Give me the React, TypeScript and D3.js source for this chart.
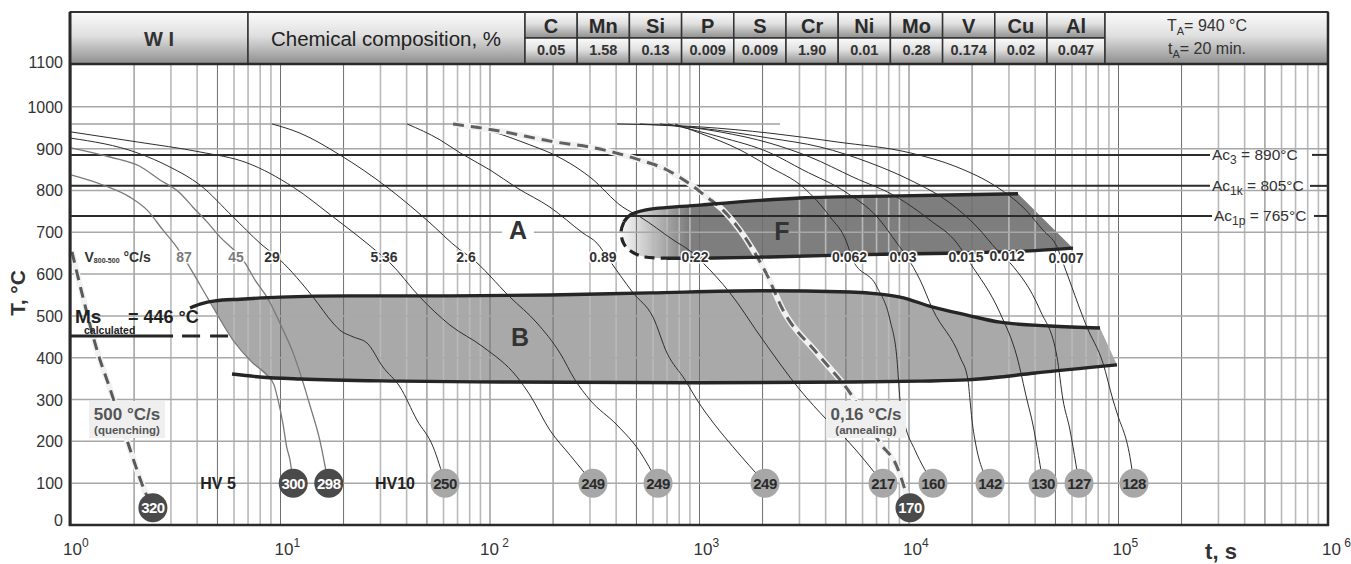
import React from 'react';
import * as d3 from 'd3';

const FONT = "'Liberation Sans', Arial, Helvetica, sans-serif";

// ---------- data ----------
const yTicks = [0, 100, 200, 300, 400, 500, 600, 700, 800, 900, 1000, 1100];
const yGrid = [100, 200, 300, 400, 500, 600, 700, 800, 900, 1000];
const xDecades = [0, 1, 2, 3, 4, 5, 6];
const austenitizingLine = [[1, 959], [2420, 959]];

const elements = ['C', 'Mn', 'Si', 'P', 'S', 'Cr', 'Ni', 'Mo', 'V', 'Cu', 'Al'];
const composition = ['0.05', '1.58', '0.13', '0.009', '0.009', '1.90', '0.01', '0.28', '0.174', '0.02', '0.047'];

const acLines = [
  { name: '3', value: '890°C', T: 885 },
  { name: '1k', value: '805°C', T: 811 },
  { name: '1p', value: '765°C', T: 739 },
];
const msTemp = 452;

const curve87 = [[1.0,837],[1.42,813],[1.91,784],[2.31,753],[2.75,705],[3.14,670],[3.58,627],[4.13,574],[4.76,521],[5.93,442],[7.39,387],[8.62,359],[9.31,335],[9.73,299],[10.3,239],[10.7,187],[11.1,155],[11.5,100]];
const curve45 = [[1.0,902],[1.535,880],[2.13,858],[2.66,825],[3.31,794],[3.82,760],[4.46,725],[5.14,689],[6.2,650],[6.77,627],[7.55,586],[8.62,545],[10.3,466],[11.5,411],[12.7,347],[13.8,287],[15.4,203],[16.9,100]];
const curve29 = [[1.0,925],[2.07,890],[2.97,856],[4.13,813],[5.93,737],[7.98,674],[9.95,634],[14.3,545],[17.8,483],[19.2,466],[22.2,450],[25.9,435],[30.8,378],[37.2,330],[44.8,251],[53.5,187],[61.0,100]];
const curve536 = [[1.0,940],[2.07,916],[4.13,892],[6.92,866],[11.5,808],[17.8,737],[27.6,662],[33.3,627],[46.3,545],[64.4,478],[92.6,426],[134.6,354],[155,311],[193,227],[241,167],[310,100]];
const curve26 = [[9.11,959],[12.4,937],[19.2,885],[32.2,808],[50.0,729],[71.9,658],[80.3,641],[124.6,545],[167.6,483],[215.9,411],[254.5,347],[300,299],[404,239],[520,175],[634,100]];
const curve089 = [[40.2,959],[57.7,921],[71.9,890],[100,849],[134.6,806],[193.4,760],[277.9,698],[324,674],[362,641],[482,555],[600,497],[700,411],[853,347],[973,299],[1186,239],[1445,187],[2055,100]];
const curve022 = [[66.6,959],[100,942],[155,909],[193.4,890],[300,832],[431,760],[520,737],[747,682],[931,650],[1039,627],[1398,555],[2010,442],[3018,323],[4061,251],[5060,203],[7515,100]];
const curve0062 = [[764,959],[1006,937],[1561,897],[2170,856],[3119,808],[4196,737],[5060,674],[5345,638],[7036,569],[8117,490],[8766,395],[9058,299],[9570,239],[10680,179],[13020,100]];
const curve003 = [[707,959],[1253,928],[2170,890],[3119,849],[5060,794],[7036,737],[8766,674],[9783,641],[11290,586],[13020,514],[17510,402],[19120,347],[19550,299],[19980,251],[20650,203],[24360,100]];
const curve0015 = [[648,959],[1253,940],[2170,913],[3369,880],[5404,832],[8766,784],[12600,729],[16950,674],[19550,627],[27190,507],[32770,402],[36580,299],[39080,239],[40830,187],[43610,100]];
const curve0012 = [[520,959],[1006,949],[2170,925],[3761,904],[6513,866],[10110,825],[15690,770],[21110,713],[26300,658],[30350,627],[42200,514],[50860,402],[54340,299],[58680,227],[60640,187],[64790,100]];
const curve0007 = [[404,959],[1006,952],[2170,937],[4533,916],[10110,890],[16950,856],[26300,808],[35010,760],[43610,705],[50860,665],[54340,627],[70720,473],[84330,387],[94130,299],[98350,268],[113400,163],[118600,100]];

const coolingCurves = [
  { pts: curve87, gray: true }, { pts: curve45, gray: true }, { pts: curve29 }, { pts: curve536 },
  { pts: curve26 }, { pts: curve089 }, { pts: curve022 }, { pts: curve0062 }, { pts: curve003 },
  { pts: curve0015 }, { pts: curve0012 }, { pts: curve0007 },
];

const quenchCurve = [[1.011,653],[1.14,545],[1.375,395],[1.485,347],[1.85,203],[2.26,79],[2.46,41]];
const annealCurve = [[66.6,959],[111.6,942],[193.4,918],[335,899],[503,875],[700,849],[872,820],[1086,784],[1295,753],[1561,705],[1800,658],[2100,598],[2503,514],[3638,411],[5229,316],[7272,196],[8766,139],[9570,84],[10110,41]];

// rate labels: [text, t, T, gray]
const rateLabels: [string, number, number, boolean][] = [
  ['87', 3.46, 641, true], ['45', 6.13, 641, true], ['29', 9.11, 641, false], ['5.36', 31.2, 641, false],
  ['2.6', 76.8, 641, false], ['0.89', 346, 641, false], ['0.22', 952, 641, false], ['0.062', 5200, 641, false],
  ['0.03', 9363, 641, false], ['0.015', 18710, 641, false], ['0.012', 29370, 644, false], ['0.007', 56160, 638, false],
];

// ferrite field
const fUpper = [[33140,792],[9058,787],[3018,782],[1006,765],[549,753],[466,741],[436,725]];
const fArc = [[436,725],[422,701],[436,672],[476,653],[549,641],[700,638]];
const fBottom = [[700,638],[1006,638],[2170,641],[5229,646],[15690,650],[35790,655],[60640,662]];

// bainite field
const bUpper = [[3.70,519],[4.13,528],[4.87,536],[6.41,540],[9.95,545],[21.5,548],[64.4,548],[193,550],[580,555],[1945,560],[5229,557],[7272,552],[9058,545],[13020,521],[18920,502],[27190,485],[47100,476],[81600,471]];
const bLower = [[5.87,361],[7.98,354],[12.4,349],[37.2,344],[111.6,342],[1006,340],[5229,342],[11290,344],[18920,347],[27190,354],[39080,363],[98350,383]];
const bFill = [[4.66,533],[4.87,536],[6.41,540],[9.95,545],[21.5,548],[64.4,548],[193,550],[580,555],[1945,560],[5229,557],[7272,552],[9058,545],[13020,521],[18920,502],[27190,485],[47100,476],[81600,471],[98350,383],[39080,363],[27190,354],[18920,347],[11290,344],[5229,342],[1006,340],[111.6,342],[37.2,344],[12.4,349],[8.62,355],[7.39,387],[5.93,442],[5.14,490]];

// hardness: [HV, t, T, dark]
const hardness: [number, number, number, boolean][] = [
  [320, 2.46, 41, true], [300, 11.5, 100, true], [298, 17.0, 100, true], [250, 61.0, 100, false],
  [249, 310, 100, false], [249, 634, 100, false], [249, 2055, 100, false], [217, 7515, 100, false],
  [170, 10110, 41, true], [160, 13020, 100, false], [142, 24360, 100, false], [130, 43610, 100, false],
  [127, 64790, 100, false], [128, 118600, 100, false],
];

// ---------- scales ----------
const x = d3.scaleLog().domain([1, 1e6]).range([71, 1328]);
const y = d3.scaleLinear().domain([0, 1100]).range([525, 65]);
const X0 = 71, X1 = 1328, Y0 = 525, YH = 64, YT = 12, YM = 38;

const lineMono = d3.line<number[]>().x(d => x(d[0])).y(d => y(d[1])).curve(d3.curveMonotoneX);
const lineCR = d3.line<number[]>().x(d => x(d[0])).y(d => y(d[1])).curve(d3.curveCatmullRom.alpha(0.5));
const lineLin = d3.line<number[]>().x(d => x(d[0])).y(d => y(d[1]));

const vGrid: { t: number; dark: boolean }[] = [];
for (let k = 0; k < 6; k++) for (let m = 1; m <= 9; m++) vGrid.push({ t: m * Math.pow(10, k), dark: m === 1 || m === 2 || m === 5 });

export default function App() {
  const colStart = 525, colW = 52.2, colEnd = 1105;
  const cols = elements.map((e, i) => {
    const x0 = colStart + i * colW;
    const x1 = i === elements.length - 1 ? colEnd : colStart + (i + 1) * colW;
    return { e, v: composition[i], x0, x1 };
  });
  const thick = '#252525';

  return (
    <svg width={1351} height={564} style={{ position: 'absolute', left: 0, top: 0, display: 'block', background: '#fff' }} fontFamily={FONT}>
      <defs>
        <linearGradient id="hdr" x1="0" y1="0" x2="0" y2="1">
          <stop offset="0" stopColor="#fbfbfb" />
          <stop offset="0.45" stopColor="#e0e0e0" />
          <stop offset="1" stopColor="#8e8e8e" />
        </linearGradient>
        <linearGradient id="fgrad" gradientUnits="userSpaceOnUse" x1="622" y1="0" x2="688" y2="0">
          <stop offset="0" stopColor="#f6f6f6" />
          <stop offset="1" stopColor="#7e7e7e" />
        </linearGradient>
      </defs>
      <rect x={0} y={0} width={1351} height={564} fill="#fff" />

      {/* fields */}
      <path d={lineLin(bFill) + 'Z'} fill="#a9a9a9" />
      <path d={lineCR([...fUpper, ...fArc.slice(1), ...fBottom.slice(1)]) + 'Z'} fill="url(#fgrad)" />

      {/* grid */}
      {vGrid.map((g, i) => (
        <line key={'v' + i} x1={x(g.t)} x2={x(g.t)} y1={YH} y2={Y0}
          stroke={g.dark ? '#6e6e6e' : '#b9b9b9'} strokeWidth={g.dark ? 1 : 1.6} />
      ))}
      {yGrid.map(v => (
        <line key={'h' + v} x1={X0} x2={X1} y1={y(v)} y2={y(v)} stroke="#a8a8a8" strokeWidth={1.5} />
      ))}
      <path d={lineLin(austenitizingLine)!} stroke="#a0a0a0" strokeWidth={1.5} fill="none" />

      {/* Ac lines */}
      {acLines.map((a, i) => {
        const lx = [1212, 1212, 1214][i];
        const rx = [1312, 1310, 1314][i];
        return (
          <g key={a.name}>
            <line x1={X0} x2={lx - 2} y1={y(a.T)} y2={y(a.T)} stroke="#2b2b2b" strokeWidth={2} />
            <line x1={rx} x2={X1} y1={y(a.T)} y2={y(a.T)} stroke="#2b2b2b" strokeWidth={2} />
            <text x={lx} y={y(a.T) + 5} fontSize={15.5} fill="#333">
              Ac<tspan dy={4} fontSize={12}>{a.name}</tspan><tspan dy={-4}>{' = ' + a.value}</tspan>
            </text>
          </g>
        );
      })}

      {/* cooling curves */}
      {coolingCurves.map((c, i) => (
        <path key={'c' + i} d={lineMono(c.pts)!} fill="none" stroke={c.gray ? '#7a7a7a' : '#2e2e2e'} strokeWidth={c.gray ? 1.3 : 1} />
      ))}

      {/* dashed quench / anneal */}
      <path d={lineMono(quenchCurve)!} fill="none" stroke="#f1f1f1" strokeWidth={6} />
      <path d={lineMono(quenchCurve)!} fill="none" stroke="#595959" strokeWidth={3} strokeDasharray="11 7" />
      <path d={lineMono(annealCurve)!} fill="none" stroke="#f1f1f1" strokeWidth={6} />
      <path d={lineMono(annealCurve)!} fill="none" stroke="#606060" strokeWidth={3} strokeDasharray="11 7" />

      {/* field boundaries */}
      <path d={lineMono(bUpper)!} fill="none" stroke={thick} strokeWidth={3.4} />
      <path d={lineMono(bLower)!} fill="none" stroke={thick} strokeWidth={3.4} />
      <path d={lineCR(fUpper)!} fill="none" stroke={thick} strokeWidth={3.4} />
      <path d={lineCR(fArc)!} fill="none" stroke={thick} strokeWidth={3.2} strokeDasharray="10 6" />
      <path d={lineCR(fBottom)!} fill="none" stroke={thick} strokeWidth={3.4} />

      {/* Ms line */}
      <line x1={X0} x2={x(3.07)} y1={y(msTemp)} y2={y(msTemp)} stroke={thick} strokeWidth={3} />
      <line x1={x(3.39)} x2={x(5.62)} y1={y(msTemp)} y2={y(msTemp)} stroke={thick} strokeWidth={3} strokeDasharray="18 10" />

      {/* rate labels */}
      <text x={x(1.16)} y={y(641) + 5} fontSize={14} fontWeight="bold" fill="#333">
        V<tspan fontSize={7} dy={1}>800-500</tspan><tspan dy={-1}>{'  °C/s'}</tspan>
      </text>
      {rateLabels.map(([s, t, T, g], i) => (
        <text key={'r' + i} x={x(t)} y={y(T) + 5} textAnchor="middle" fontSize={14} fontWeight="bold"
          fill={g ? '#7a7a7a' : '#333'} stroke="#fff" strokeWidth={3} paintOrder="stroke" strokeLinejoin="round">{s}</text>
      ))}

      {/* region letters */}
      <rect x={x(136) - 16} y={y(705) - 13} width={32} height={26} fill="#fff" />
      <text x={x(136)} y={y(705) + 9} textAnchor="middle" fontSize={25} fontWeight="bold" fill="#333">A</text>
      <text x={x(139)} y={y(450) + 9} textAnchor="middle" fontSize={25} fontWeight="bold" fill="#333">B</text>
      <text x={x(2476)} y={y(703) + 9} textAnchor="middle" fontSize={25} fontWeight="bold" fill="#333">F</text>

      {/* Ms text */}
      <text x={75} y={323} fontSize={19} fontWeight="bold" fill="#222">Ms</text>
      <text x={84} y={334} fontSize={10.5} fontWeight="bold" fill="#222">calculated</text>
      <text x={128} y={323} fontSize={18} fontWeight="bold" fill="#222">= 446 °C</text>

      {/* quench / anneal labels */}
      <rect x={89} y={401} width={76} height={37} fill="#efefef" />
      <text x={127} y={420} textAnchor="middle" fontSize={17} fontWeight="bold" fill="#555">500 °C/s</text>
      <text x={127} y={434} textAnchor="middle" fontSize={11.5} fontWeight="bold" fill="#555">(quenching)</text>
      <rect x={826} y={401} width={80} height={37} fill="#efefef" />
      <text x={866} y={420} textAnchor="middle" fontSize={17} fontWeight="bold" fill="#555">0,16 °C/s</text>
      <text x={866} y={434} textAnchor="middle" fontSize={11.5} fontWeight="bold" fill="#555">(annealing)</text>

      {/* HV labels */}
      <text x={218} y={y(100) + 6} textAnchor="middle" fontSize={16} fontWeight="bold" fill="#222">HV 5</text>
      <text x={395} y={y(100) + 6} textAnchor="middle" fontSize={16} fontWeight="bold" fill="#222">HV10</text>

      {/* hardness circles */}
      {hardness.map(([hv, t, T, dark], i) => (
        <g key={'hv' + i}>
          <circle cx={x(t)} cy={y(T)} r={14.5} fill={dark ? '#4a4a4a' : '#a7a7a7'} />
          <text x={x(t)} y={y(T) + 5.5} textAnchor="middle" fontSize={15} fontWeight="bold"
            fill={dark ? '#fff' : '#2a2a2a'} letterSpacing={-0.5}>{hv}</text>
        </g>
      ))}

      {/* header */}
      <rect x={70} y={YT} width={248 - 70} height={YH - YT} fill="url(#hdr)" stroke="#333" strokeWidth={1.5} />
      <rect x={248} y={YT} width={525 - 248} height={YH - YT} fill="url(#hdr)" stroke="#333" strokeWidth={1.5} />
      <text x={159} y={46} textAnchor="middle" fontSize={20} fontWeight="bold" fill="#333">W I</text>
      <text x={386} y={46} textAnchor="middle" fontSize={20.5} fill="#222">Chemical composition, %</text>
      {cols.map(c => (
        <g key={c.e}>
          <rect x={c.x0} y={YT} width={c.x1 - c.x0} height={YM - YT} fill="url(#hdr)" stroke="#333" strokeWidth={1.5} />
          <rect x={c.x0} y={YM} width={c.x1 - c.x0} height={YH - YM} fill="url(#hdr)" stroke="#333" strokeWidth={1.5} />
          <text x={(c.x0 + c.x1) / 2} y={33} textAnchor="middle" fontSize={20} fontWeight="bold" fill="#2a2a2a">{c.e}</text>
          <text x={(c.x0 + c.x1) / 2} y={55} textAnchor="middle" fontSize={14.5} fontWeight="bold" fill="#333">{c.v}</text>
        </g>
      ))}
      <rect x={1105} y={YT} width={X1 - 1105} height={YH - YT} fill="url(#hdr)" stroke="#333" strokeWidth={1.5} />
      <text x={1207} y={31} textAnchor="middle" fontSize={16} fill="#333">
        T<tspan dy={4} fontSize={11}>A</tspan><tspan dy={-4}>= 940 °C</tspan>
      </text>
      <text x={1207} y={54} textAnchor="middle" fontSize={16} fill="#333">
        t<tspan dy={4} fontSize={11}>A</tspan><tspan dy={-4}>= 20 min.</tspan>
      </text>

      {/* frame */}
      <line x1={70} x2={X1} y1={YT} y2={YT} stroke="#333" strokeWidth={2} />
      <line x1={70} x2={X1} y1={YH} y2={YH} stroke="#2a2a2a" strokeWidth={2.5} />
      <line x1={70} x2={70} y1={YT} y2={Y0 + 1} stroke="#2a2a2a" strokeWidth={3} />
      <line x1={X1} x2={X1} y1={YT} y2={Y0 + 1} stroke="#2a2a2a" strokeWidth={2.5} />
      <line x1={69} x2={X1 + 1} y1={Y0} y2={Y0} stroke="#2a2a2a" strokeWidth={2.5} />

      {/* y ticks */}
      {yTicks.map(v => {
        let yy = y(v);
        if (v === 0) yy = 520;
        if (v === 1100) yy = 62;
        return <text key={'yt' + v} x={63} y={yy + 6} textAnchor="end" fontSize={16} fill="#333">{v}</text>;
      })}
      <text transform="translate(25,293) rotate(-90)" textAnchor="middle" fontSize={21} fontWeight="bold" fill="#333">T, °C</text>

      {/* x ticks */}
      {xDecades.map(k => (
        <text key={'xt' + k} x={x(Math.pow(10, k)) - (k === 0 ? 8 : k === 2 ? 10 : 6)} y={555} fontSize={17} fill="#333">
          10<tspan dy={-8} fontSize={12}>{(k === 2 || k === 6 ? ' ' : '') + k}</tspan>
        </text>
      ))}
      <text x={1221} y={559} textAnchor="middle" fontSize={22} fontWeight="bold" fill="#333">t, s</text>
    </svg>
  );
}
